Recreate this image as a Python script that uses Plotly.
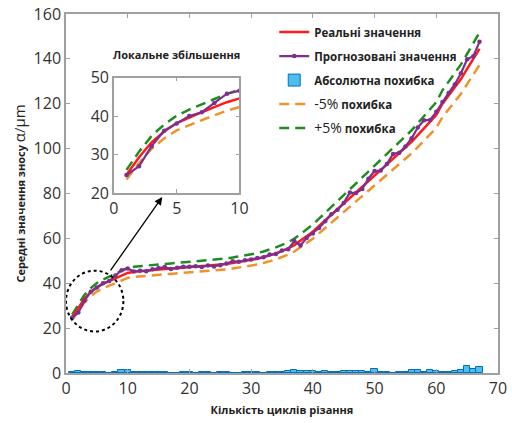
import plotly.graph_objects as go

cycles = list(range(1, 68))

real_values = [24.8, 29.3, 33.2, 36.0, 38.2, 39.7, 41.0, 42.3, 43.6, 44.6,
               45.1, 45.4, 45.7, 45.9, 46.1, 46.3, 46.5, 46.7, 46.9, 47.1,
               47.3, 47.5, 47.7, 48.0, 48.3, 48.6, 49.0, 49.4, 49.8, 50.3,
               50.9, 51.6, 52.4, 53.3, 54.4, 55.5, 57.0, 59.0, 61.0, 63.0,
               65.5, 68.0, 70.5, 73.0, 75.5, 78.0, 80.5, 83.0, 85.5, 88.0,
               90.5, 93.0, 95.5, 98.0, 100.5, 103.0, 106.0, 109.0, 112.0, 115.0,
               120.0, 123.5, 127.0, 131.0, 135.5, 140.0, 144.5]

predicted_values = [24.7, 27.0, 32.2, 36.2, 38.1, 40.0, 41.0, 43.4, 45.8, 46.6,
                    45.2, 45.6, 45.3, 46.2, 46.8, 47.2, 46.4, 46.9, 47.4, 47.3,
                    47.6, 47.2, 47.9, 47.5, 48.0, 48.8, 49.8, 49.6, 50.2, 50.6,
                    51.2, 51.6, 52.8, 53.0, 54.6, 55.2, 58.8, 56.8, 60.2, 62.2,
                    64.6, 67.6, 70.8, 72.8, 75.8, 80.4, 80.2, 82.0, 86.6, 90.0,
                    90.2, 93.2, 97.6, 98.2, 101.0, 104.6, 109.4, 112.6, 112.8, 116.4,
                    120.8, 124.8, 128.6, 133.6, 139.8, 141.2, 147.6]

abs_error = [0.3, 1.0, 0.6, 0.4, 0.3, 0.3, 0.2, 0.3, 1.3, 1.3,
             0.4, 0.3, 0.3, 0.4, 0.6, 0.6, 0.2, 0.2, 0.5, 0.3,
             0.2, 0.3, 0.3, 0.2, 0.4, 0.3, 0.2, 0.2, 0.3, 0.3,
             0.3, 0.2, 0.4, 0.3, 0.5, 0.7, 1.5, 1.0, 0.9, 0.7,
             0.3, 0.8, 0.6, 0.3, 0.9, 0.9, 0.8, 0.7, 0.3, 1.9,
             0.6, 0.4, 0.2, 0.4, 0.6, 1.2, 1.5, 0.4, 1.2, 0.7,
             0.6, 0.3, 0.7, 1.3, 3.3, 1.7, 2.5]

# -5% / +5% bounds of the real values
lower_5 = [round(v * 0.95, 2) for v in real_values]
upper_5 = [round(v * 1.05, 2) for v in real_values]

zoom_n = 10  # points shown in the inset

RED = "#FF1A1A"
PURPLE = "#7E2F8E"
ORANGE = "#F0922A"
GREEN = "#1E8C1E"
BAR_FILL = "#4DBEEE"
BAR_EDGE = "#0072BD"
FONT = "Open Sans"
DASH = "10px,6px"

fig = go.Figure()

fig.add_trace(go.Bar(x=cycles, y=abs_error, width=1.0, marker=dict(color=BAR_FILL, line=dict(color=BAR_EDGE, width=1)),
                     name="Абсолютна похибка", legendrank=3, legendgroup="c"))
fig.add_trace(go.Scatter(x=cycles, y=lower_5, mode="lines", line=dict(color=ORANGE, width=2.5, dash=DASH),
                         name="<span style='font-weight:normal;font-size:14px'>-5%</span> похибка", legendrank=4, legendgroup="d"))
fig.add_trace(go.Scatter(x=cycles, y=upper_5, mode="lines", line=dict(color=GREEN, width=2.5, dash=DASH),
                         name="<span style='font-weight:normal;font-size:14px'>+5%</span> похибка", legendrank=5, legendgroup="e"))
fig.add_trace(go.Scatter(x=cycles, y=real_values, mode="lines", line=dict(color=RED, width=2.5),
                         name="Реальні значення", legendrank=1, legendgroup="a"))
fig.add_trace(go.Scatter(x=cycles, y=predicted_values, mode="lines+markers", line=dict(color=PURPLE, width=2.2),
                         marker=dict(size=4.5, color=PURPLE),
                         name="Прогнозовані значення", legendrank=2, legendgroup="b"))

# inset traces
zx = cycles[:zoom_n]
fig.add_trace(go.Scatter(x=zx, y=lower_5[:zoom_n], mode="lines", line=dict(color=ORANGE, width=2.5, dash=DASH),
                         xaxis="x2", yaxis="y2", showlegend=False))
fig.add_trace(go.Scatter(x=zx, y=upper_5[:zoom_n], mode="lines", line=dict(color=GREEN, width=2.5, dash=DASH),
                         xaxis="x2", yaxis="y2", showlegend=False))
fig.add_trace(go.Scatter(x=zx, y=real_values[:zoom_n], mode="lines", line=dict(color=RED, width=2.5),
                         xaxis="x2", yaxis="y2", showlegend=False))
fig.add_trace(go.Scatter(x=zx, y=predicted_values[:zoom_n], mode="lines+markers", line=dict(color=PURPLE, width=2.2),
                         marker=dict(size=4.5, color=PURPLE), xaxis="x2", yaxis="y2", showlegend=False))

axis_common = dict(showgrid=False, zeroline=False, showline=True, linecolor="#A0A0A0", linewidth=1.5,
                   mirror="ticks", ticks="inside", ticklen=4, tickcolor="#A0A0A0", automargin=False,
                   tickfont=dict(family=FONT, size=16, color="#333333"))

fig.update_layout(
    width=512, height=423,
    margin=dict(l=66, r=14, t=14, b=50),
    paper_bgcolor="white", plot_bgcolor="white",
    font=dict(family=FONT, color="#222222"),
    bargap=0,
    xaxis=dict(range=[0, 70], dtick=10, **axis_common,
               title=dict(text="<b>Кількість циклів різання</b>", font=dict(family=FONT, size=11, color="#222222"), standoff=8)),
    yaxis=dict(range=[0, 160], dtick=20, **axis_common,
               title=dict(text="<b>Середні значення зносу</b> <span style='font-size:15px'>α/μm</span>",
                          font=dict(family=FONT, size=11, color="#222222"), standoff=6)),
    xaxis2=dict(domain=[0.111, 0.4016], anchor="y2", range=[0, 10], dtick=5, **axis_common),
    yaxis2=dict(domain=[0.501, 0.823], anchor="x2", range=[20, 50], dtick=10, **axis_common),
    legend=dict(x=0.482, y=0.99, xanchor="left", yanchor="top", bgcolor="rgba(0,0,0,0)",
                font=dict(family=FONT, size=11.5, color="#222222", weight="bold"),
                traceorder="grouped", tracegroupgap=5, itemwidth=30),
    showlegend=True,
)

fig.add_annotation(text="<b>Локальне збільшення</b>", xref="x2 domain", yref="y2 domain", x=0.5, y=1.28,
                   showarrow=False, font=dict(family=FONT, size=11, color="#222222"))

# highlighted region and arrow to the inset
fig.add_shape(type="circle", xref="x", yref="y", x0=0.0, x1=9.3, y0=18.5, y1=45.6,
              line=dict(color="black", width=2, dash="dot"))
fig.add_annotation(x=15.6, y=78.4, ax=7.05, ay=45.1, xref="x", yref="y", axref="x", ayref="y",
                   text="", showarrow=True, arrowhead=2, arrowsize=1.2, arrowwidth=1.3, arrowcolor="black")

fig.write_html("out.html")
